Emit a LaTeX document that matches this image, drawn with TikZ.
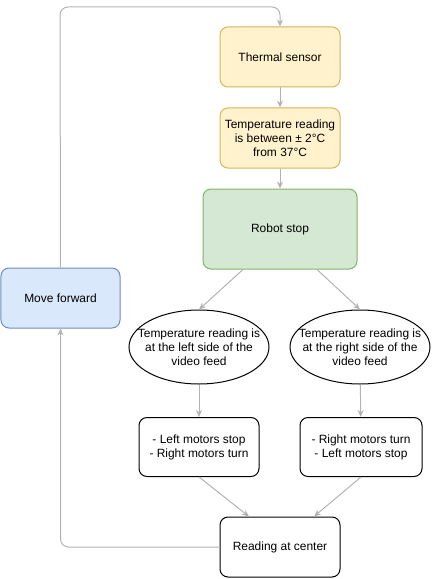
\documentclass[tikz,border=0pt]{standalone}
\usepackage{fontspec}
\setmainfont{Liberation Sans}
\usetikzlibrary{arrows.meta, positioning, shapes.geometric}
\usepackage{xcolor}
\definecolor{sensorfill}{HTML}{FFF2CC}
\definecolor{sensorline}{HTML}{D6B656}
\definecolor{stopfill}{HTML}{D5E8D4}
\definecolor{stopline}{HTML}{82B366}
\definecolor{movefill}{HTML}{DAE8FC}
\definecolor{moveline}{HTML}{6C8EBF}
\definecolor{edgecolor}{HTML}{B3B3B3}

\begin{document}
\begin{tikzpicture}[x=1bp, y=-1bp, every node/.style={font=\fontsize{12}{14}\selectfont, align=center},
    box/.style={rectangle, rounded corners=8bp, draw=black, line width=1bp, minimum width=120bp, minimum height=60bp, inner sep=2bp},
    sensorbox/.style={box, fill=sensorfill, draw=sensorline}, stopbox/.style={box, fill=stopfill, draw=stopline, minimum width=154bp, minimum height=80bp},
    movebox/.style={box, fill=movefill, draw=moveline, minimum width=119bp}, eye/.style={ellipse, draw=black, line width=1bp, minimum width=140bp, minimum height=74bp, inner sep=0pt},
    flow/.style={->, draw=edgecolor, line width=1bp}, >={Stealth[length=7bp, width=6bp]}, node distance=20bp]
    \useasboundingbox (0,0) rectangle (431,579);

    \node[sensorbox] (thermal) at (280,57) {Thermal sensor};
    \node[sensorbox, below=of thermal] (reading) {Temperature reading\\is between ± 2°C\\from 37°C};
    \node[stopbox, below=of reading] (stop) {Robot stop};
    \node[movebox] (forward) at (60.5,298) {Move forward};

    \node[eye, label={center:Temperature reading is\\at the left side of the\\video feed}] (lefteye) at (199,347) {};
    \node[eye, label={center:Temperature reading is\\at the right side of the\\video feed}] (righteye) at (360,347) {};

    \node[box, minimum height=59bp] (leftmot) at (199,447) {- Left motors stop\\- Right motors turn};
    \node[box, minimum width=122bp, minimum height=59bp] (rightmot) at (361,447) {- Right motors turn\\- Left motors stop};
    \node[box] (center) at (280,547) {Reading at center};

    \coordinate (loop) at (60,7);

    \draw[flow] (thermal) -- (reading);
    \draw[flow] (reading) -- (stop);
    \draw[flow] ([xshift=-37bp]stop.south) -- (lefteye.north);
    \draw[flow] ([xshift=37bp]stop.south) -- (righteye.north);
    \draw[flow] (lefteye) -- (leftmot);
    \draw[flow] (righteye) -- (rightmot);
    \draw[flow] (leftmot.south) -- ([xshift=-31bp]center.north);
    \draw[flow] (rightmot.south) -- ([xshift=34bp]center.north);
    \draw[flow, rounded corners=8bp] (center.west) -| (forward.south);
    \draw[flow, rounded corners=8bp] (forward.north) -- (loop) -| (thermal.north);
\end{tikzpicture}
\end{document}
